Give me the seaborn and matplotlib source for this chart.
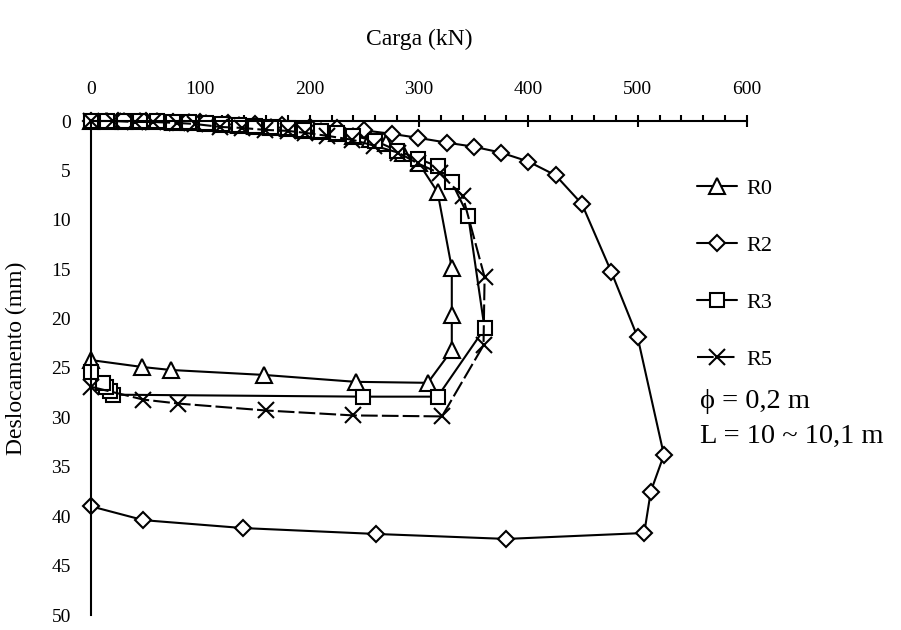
import matplotlib
matplotlib.use('Agg')
import matplotlib.pyplot as plt
import seaborn as sns
from matplotlib.ticker import MultipleLocator

# carga (kN) x deslocamento (mm)
r0_carga = [0, 15, 30, 45, 60, 75, 90, 105, 120, 135, 150, 165, 180, 195, 210, 225, 240, 255, 270, 285, 300, 317, 330, 330, 330, 308, 242, 158, 73, 47, 0]
r0_desl = [0, 0, 0, 0, 0.05, 0.1, 0.15, 0.2, 0.3, 0.4, 0.5, 0.6, 0.75, 0.9, 1.05, 1.25, 1.5, 1.8, 2.2, 3.2, 4.3, 7.2, 14.9, 19.6, 23.2, 26.5, 26.4, 25.7, 25.2, 24.9, 24.2]

r2_carga = [0, 25, 50, 75, 100, 125, 150, 175, 200, 225, 250, 275, 299, 326, 350, 375, 400, 425, 449, 476, 500, 524, 512, 506, 380, 261, 139, 48, 0]
r2_desl = [0, 0, 0.05, 0.1, 0.15, 0.25, 0.35, 0.45, 0.6, 0.75, 0.95, 1.3, 1.7, 2.2, 2.6, 3.2, 4.1, 5.5, 8.4, 15.3, 21.9, 33.8, 37.5, 41.7, 42.3, 41.8, 41.2, 40.4, 39.0]

r3_carga = [0, 15, 30, 45, 60, 75, 90, 105, 120, 135, 150, 165, 180, 195, 210, 225, 240, 260, 280, 299, 317, 330, 345, 360, 317, 249, 20, 17, 14, 11, 0]
r3_desl = [0, 0, 0, 0, 0.05, 0.1, 0.15, 0.2, 0.3, 0.4, 0.5, 0.6, 0.75, 0.9, 1.05, 1.25, 1.5, 2.0, 3.0, 3.8, 4.6, 6.2, 9.6, 21.0, 27.9, 27.9, 27.7, 27.3, 26.9, 26.5, 25.4]

r5_carga = [0, 20, 40, 57, 79, 95, 118, 138, 159, 180, 196, 216, 239, 259, 281, 299, 319, 340, 360, 359, 321, 240, 160, 80, 48, 0]
r5_desl = [0, 0, 0.1, 0.1, 0.2, 0.3, 0.6, 0.7, 0.9, 1.0, 1.2, 1.5, 1.9, 2.5, 3.2, 4.3, 5.3, 7.6, 15.8, 22.7, 29.9, 29.8, 29.3, 28.6, 28.2, 26.9]

sns.set_style('white')
plt.rcParams['font.family'] = ['Liberation Serif', 'DejaVu Serif']
plt.rcParams['text.color'] = 'black'
plt.rcParams['axes.labelcolor'] = 'black'
plt.rcParams['xtick.color'] = 'black'
plt.rcParams['ytick.color'] = 'black'

fig = plt.figure(figsize=(9.01, 6.3), dpi=100)
ax = fig.add_axes([91 / 901, 15 / 630, 656 / 901, 494 / 630])

common = dict(color='black', linewidth=1.5, markerfacecolor='white',
              markeredgecolor='black', markeredgewidth=1.5, clip_on=False,
              sort=False, estimator=None, ax=ax)

sns.lineplot(x=r0_carga, y=r0_desl, marker='^', markersize=11, label='R0', **common)
sns.lineplot(x=r2_carga, y=r2_desl, marker='D', markersize=8, label='R2', **common)
sns.lineplot(x=r3_carga, y=r3_desl, marker='s', markersize=10, label='R3', **common)
sns.lineplot(x=r5_carga, y=r5_desl, marker='x', markersize=11, label='R5',
             dashes=(8, 2), **common)

ax.set_xlim(0, 600)
ax.set_ylim(50, 0)
ax.xaxis.tick_top()
ax.xaxis.set_label_position('top')
ax.xaxis.set_major_locator(MultipleLocator(100))
ax.xaxis.set_minor_locator(MultipleLocator(20))
ax.yaxis.set_major_locator(MultipleLocator(5))
ax.yaxis.set_minor_locator(MultipleLocator(1))

for s in ['right', 'bottom']:
    ax.spines[s].set_visible(False)
for s in ['top', 'left']:
    ax.spines[s].set_linewidth(1.5)
    ax.spines[s].set_color('black')

ax.tick_params(which='major', direction='inout', length=9, width=1.5, labelsize=14)
ax.tick_params(which='minor', direction='out', length=4.5, width=1.5)
ax.tick_params(axis='x', which='major', pad=12)
ax.tick_params(axis='y', which='major', pad=10)

ax.set_xlabel('Carga (kN)', fontsize=17, labelpad=26)
ax.set_ylabel('Deslocamento (mm)', fontsize=17)
ax.yaxis.set_label_coords(-0.098, 0.52)

ax.legend(loc='upper left', bbox_to_anchor=(697 / 901, 1 - 178 / 630),
          bbox_transform=fig.transFigure, frameon=False, fontsize=16,
          handlelength=1.8, handletextpad=0.4, labelspacing=1.65,
          borderpad=0, borderaxespad=0)

fig.text(700 / 901, 1 - 401 / 630, 'ϕ = 0,2 m', fontsize=20.5, va='center')
fig.text(700 / 901, 1 - 436 / 630, 'L = 10 ~ 10,1 m', fontsize=20.5, va='center')

fig.savefig('out.png', dpi=100)
